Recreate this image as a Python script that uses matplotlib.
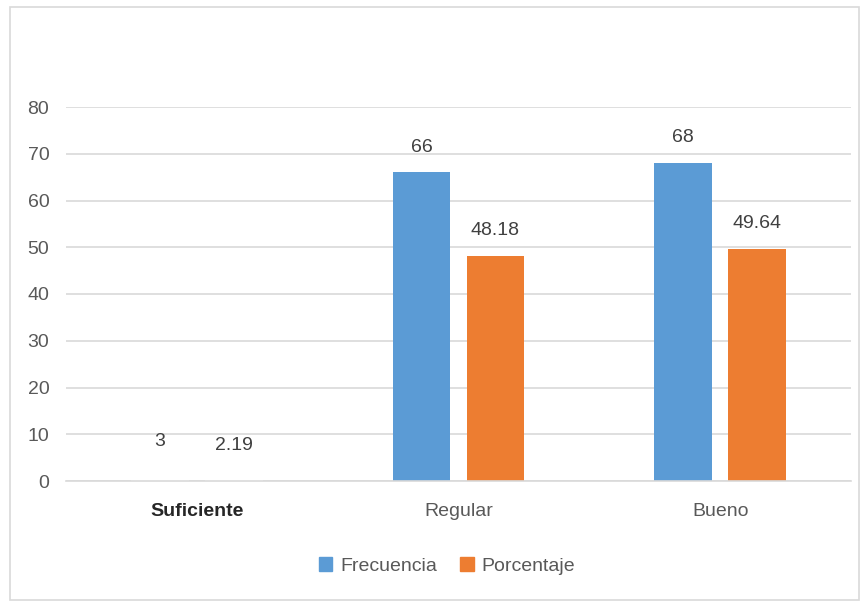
import matplotlib.pyplot as plt
import matplotlib.patches as patches
import numpy as np

categories = ["Suficiente", "Regular", "Bueno"]
frecuencia = [3, 66, 68]
porcentaje = [2.19, 48.18, 49.64]
freq_labels = ["3", "66", "68"]
pct_labels = ["2.19", "48.18", "49.64"]
y_ticks = [0, 10, 20, 30, 40, 50, 60, 70, 80]

BLUE = "#5B9BD5"
ORANGE = "#ED7D31"
TEXT = "#595959"

plt.rcParams['font.family'] = ['Liberation Sans', 'DejaVu Sans']

fig = plt.figure(figsize=(8.64, 6.04), dpi=100)
ax = fig.add_axes([66 / 864, 123 / 604, 785 / 864, 374 / 604])

# outer chart border
fig.patches.append(patches.Rectangle((10 / 864, 4 / 604), 849 / 864, 593 / 604,
                                     transform=fig.transFigure, fill=False,
                                     edgecolor="#D9D9D9", linewidth=1.2))

x = np.arange(len(categories))
w = 0.22
off = 0.141

# first category bars show as blank in the reference
blue_cols = ["white", BLUE, BLUE]
orange_cols = ["white", ORANGE, ORANGE]
b1 = ax.bar(x - off, frecuencia, w, color=blue_cols, zorder=2)
b2 = ax.bar(x + off, porcentaje, w, color=orange_cols, zorder=2)

for rect, lab in zip(b1, freq_labels):
    ax.text(rect.get_x() + rect.get_width() / 2, rect.get_height() + 3.6, lab,
            ha="center", va="bottom", fontsize=14, color="#404040")
for rect, lab in zip(b2, pct_labels):
    ax.text(rect.get_x() + rect.get_width() / 2, rect.get_height() + 3.6, lab,
            ha="center", va="bottom", fontsize=14, color="#404040")

ax.set_xlim(-0.5, 2.5)
ax.set_ylim(0, 80)
ax.set_yticks(y_ticks)
ax.tick_params(axis="y", length=0, labelsize=14, labelcolor=TEXT, pad=12)
ax.tick_params(axis="x", length=0, labelsize=14, labelcolor=TEXT, pad=16)
ax.set_xticks(x)
ax.set_xticklabels(categories)
first = ax.get_xticklabels()[0]
first.set_fontweight("bold")
first.set_color("#262626")

ax.yaxis.grid(True, color="#D9D9D9", linewidth=1.2, zorder=0)
ax.set_axisbelow(True)
for s in ["top", "right", "left"]:
    ax.spines[s].set_visible(False)
ax.spines["bottom"].set_color("#D9D9D9")
ax.spines["bottom"].set_linewidth(1.2)
ax.spines["bottom"].set_zorder(5)

handles = [patches.Patch(color=BLUE), patches.Patch(color=ORANGE)]
fig.legend(handles, ["Frecuencia", "Porcentaje"], loc="center",
           bbox_to_anchor=(447 / 864, 1 - 566 / 604), ncol=2, frameon=False,
           fontsize=14, labelcolor=TEXT, handlelength=0.7, handleheight=0.7,
           handletextpad=0.4, columnspacing=1.2)

fig.savefig("out.png", dpi=100)
